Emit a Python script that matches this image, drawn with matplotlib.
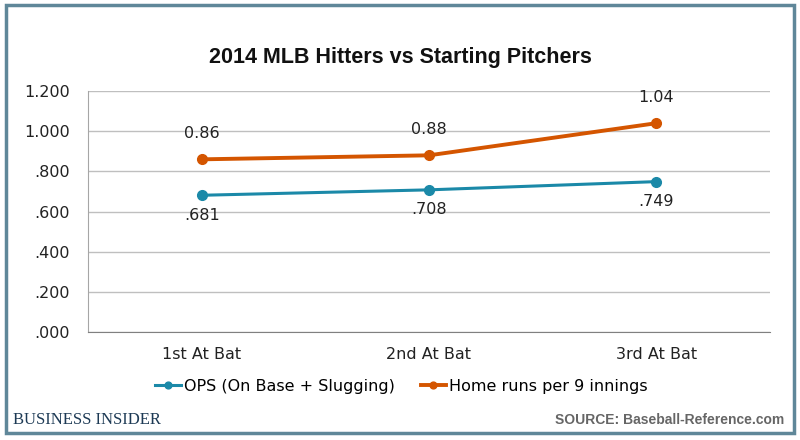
import matplotlib.pyplot as plt
from matplotlib.patches import Rectangle

categories = ["1st At Bat", "2nd At Bat", "3rd At Bat"]
ops = [0.681, 0.708, 0.749]
ops_labels = [".681", ".708", ".749"]
hr = [0.86, 0.88, 1.04]
hr_labels = ["0.86", "0.88", "1.04"]
yticks = [0.0, 0.2, 0.4, 0.6, 0.8, 1.0, 1.2]
ytick_labels = [".000", ".200", ".400", ".600", ".800", "1.000", "1.200"]

teal = "#1b89a8"
orange = "#d45500"

fig = plt.figure(figsize=(8, 4.4), dpi=100)
fig.patches.append(Rectangle((0.007, 0.016), 0.985, 0.972, transform=fig.transFigure,
                             fill=False, edgecolor="#5f8799", linewidth=2.5))

ax = fig.add_axes([0.11, 0.2455, 0.8525, 0.5475])
x = list(range(len(categories)))
ax.plot(x, ops, color=teal, linewidth=2.2, marker="o", markersize=7, label="OPS (On Base + Slugging)")
ax.plot(x, hr, color=orange, linewidth=2.8, marker="o", markersize=7, label="Home runs per 9 innings")

for i in x:
    ax.annotate(ops_labels[i], (i, ops[i]), xytext=(0, -9), textcoords="offset points",
                ha="center", va="top", fontsize=11.5, color="#222222")
    ax.annotate(hr_labels[i], (i, hr[i]), xytext=(0, 13), textcoords="offset points",
                ha="center", va="bottom", fontsize=11.5, color="#222222")

ax.set_xlim(-0.5, 2.5)
ax.set_ylim(0, 1.2)
ax.set_yticks(yticks)
ax.set_yticklabels(ytick_labels)
ax.set_xticks(x)
ax.set_xticklabels(categories)
ax.tick_params(axis="both", length=0, labelsize=11.5, colors="#222222")
ax.tick_params(axis="y", pad=13)
ax.tick_params(axis="x", pad=11)
ax.grid(axis="y", color="#bfbfbf", linewidth=1)
ax.set_axisbelow(True)
ax.spines["top"].set_visible(False)
ax.spines["right"].set_visible(False)
ax.spines["left"].set_color("#a6a6a6")
ax.spines["bottom"].set_color("#808080")

fig.text(0.5, 0.87, "2014 MLB Hitters vs Starting Pitchers", ha="center", va="center",
         fontsize=15.5, fontweight="bold", family="Liberation Sans", color="#111111")

# legend sits centred on the figure, not the axes
ax.legend(loc="upper center", bbox_to_anchor=(0.46, -0.135), ncol=2, frameon=False,
          fontsize=11.5, handlelength=1.6, handletextpad=0.2, columnspacing=1.6, markerscale=0.7)

fig.text(0.016, 0.045, "BUSINESS INSIDER", ha="left", va="center", fontsize=12,
         family="Liberation Serif", color="#1d3a55")
fig.text(0.98, 0.045, "SOURCE: Baseball-Reference.com", ha="right", va="center", fontsize=10,
         fontweight="bold", family="Liberation Sans", color="#666666")

fig.savefig("out.png", dpi=100)
